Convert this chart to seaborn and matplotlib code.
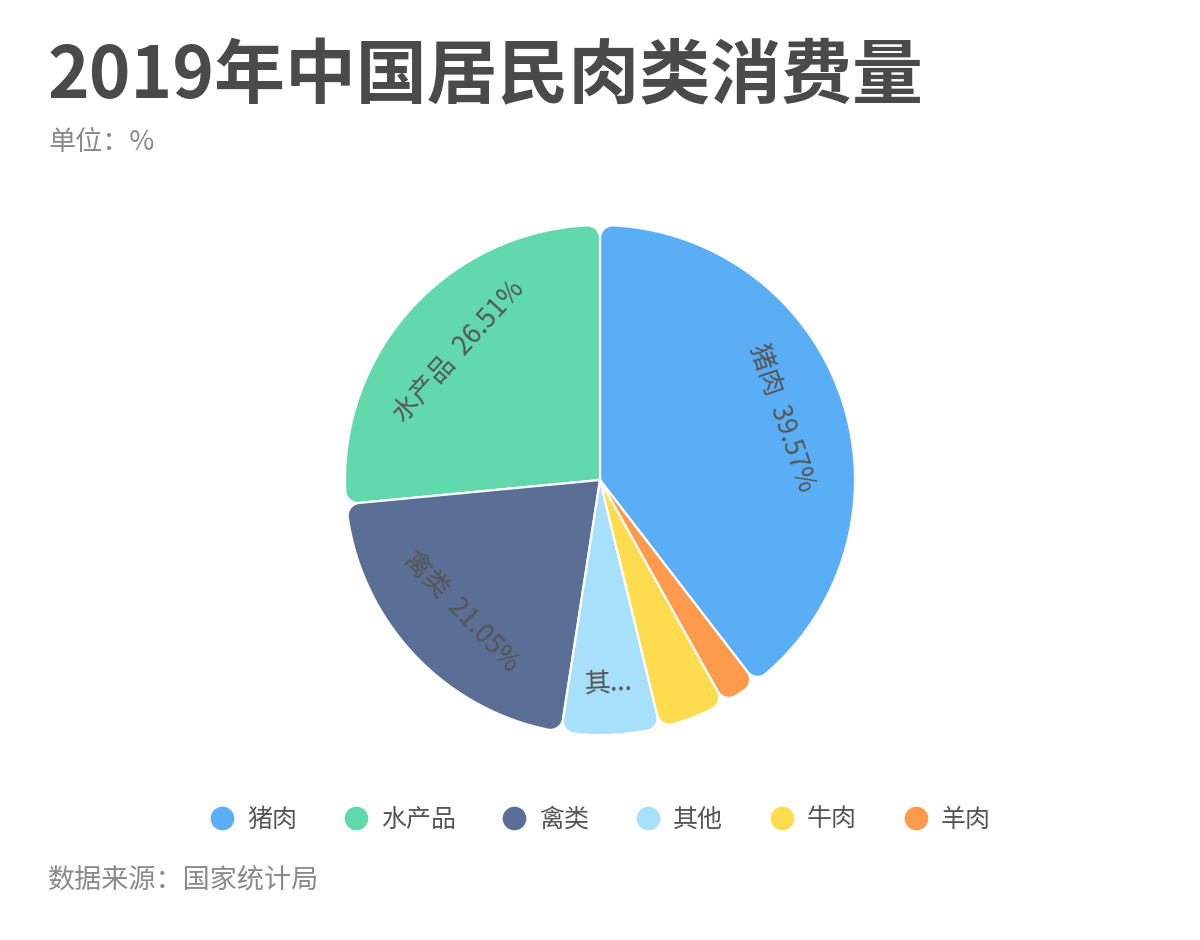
"""
2019年中国居民肉类消费量 - pie chart with rounded slices.
"""
import numpy as np
import matplotlib
matplotlib.use("Agg")
import matplotlib.pyplot as plt
from matplotlib.patches import Polygon
from matplotlib.lines import Line2D
import seaborn as sns

categories = ["猪肉", "水产品", "禽类", "其他", "牛肉", "羊肉"]
percents = [39.57, 26.51, 21.05, 6.24, 4.29, 2.34]
colors = ["#5aaef5", "#61d9ad", "#5b6e96", "#a8dffa", "#fedc4d", "#fe9a4c"]

title = "2019年中国居民肉类消费量"
subtitle = "单位：%"
source = "数据来源：国家统计局"

sns.set_theme(style="white")
plt.rcParams["font.family"] = ["Noto Sans CJK SC", "DejaVu Sans"]


def rounded_wedge(theta1, theta2, r, rc, n=40):
    """outline of a wedge with rounded outer corners (angles in degrees)"""
    t1, t2 = np.radians(theta1), np.radians(theta2)
    rc = min(rc, r * np.sin((t2 - t1) / 2) / (1 + np.sin((t2 - t1) / 2)) * 0.95)
    d = np.arcsin(rc / (r - rc))
    pts = [(0.0, 0.0)]
    # corner at theta1
    c = (r - rc) * np.array([np.cos(t1 + d), np.sin(t1 + d)])
    for a in np.linspace(t1 - np.pi / 2, t1 + d, n):
        pts.append(tuple(c + rc * np.array([np.cos(a), np.sin(a)])))
    for a in np.linspace(t1 + d, t2 - d, 200):
        pts.append((r * np.cos(a), r * np.sin(a)))
    c = (r - rc) * np.array([np.cos(t2 - d), np.sin(t2 - d)])
    for a in np.linspace(t2 - d, t2 + np.pi / 2, n):
        pts.append(tuple(c + rc * np.array([np.cos(a), np.sin(a)])))
    return pts


fig = plt.figure(figsize=(12, 9.4), dpi=100)
ax = fig.add_axes([0.25, 0.1702, 0.5, 0.6383])

start = 90 - 360 * percents[0] / 100
wedges, _ = ax.pie(percents, colors=colors, startangle=start, counterclock=True,
                   radius=1.0)
for w, col, name, pct in zip(wedges, colors, categories, percents):
    w.set_visible(False)
    poly = Polygon(rounded_wedge(w.theta1, w.theta2, w.r, 0.05), closed=True,
                   facecolor=col, edgecolor="white", linewidth=1.6,
                   joinstyle="round")
    ax.add_patch(poly)
    if pct < 5:
        continue
    mid = (w.theta1 + w.theta2) / 2
    if pct < 10:
        txt, rr = name[0] + "...", 0.8
    else:
        txt, rr = f"{name}  {pct:.2f}%", 0.75
    rot = mid - 90
    if rot > 90:
        rot -= 180
    elif rot <= -90:
        rot += 180
    ax.text(rr * np.cos(np.radians(mid)), rr * np.sin(np.radians(mid)), txt,
            rotation=rot, rotation_mode="anchor", ha="center", va="center",
            fontsize=19, color="#555555")

lim = 300 / 255
ax.set_xlim(-lim, lim)
ax.set_ylim(-lim, lim)
ax.set_aspect("equal")
ax.axis("off")

fig.text(0.04, 0.918, title, fontsize=51, fontweight="bold", color="#4a4a4a",
         ha="left", va="center")
fig.text(0.04, 0.848, subtitle, fontsize=19.5, color="#8a8a8a", ha="left", va="center")
fig.text(0.04, 0.064, source, fontsize=19.5, color="#8a8a8a", ha="left", va="center")

handles = [Line2D([], [], marker="o", linestyle="none", markersize=16,
                  markerfacecolor=c, markeredgecolor=c) for c in colors]
fig.legend(handles, categories, loc="center", bbox_to_anchor=(0.5, 0.128), ncol=6,
           frameon=False, fontsize=18, handlelength=1.0, handletextpad=0.5,
           columnspacing=1.85, labelcolor="#555555")

fig.savefig("out.png", dpi=100, facecolor="white")
